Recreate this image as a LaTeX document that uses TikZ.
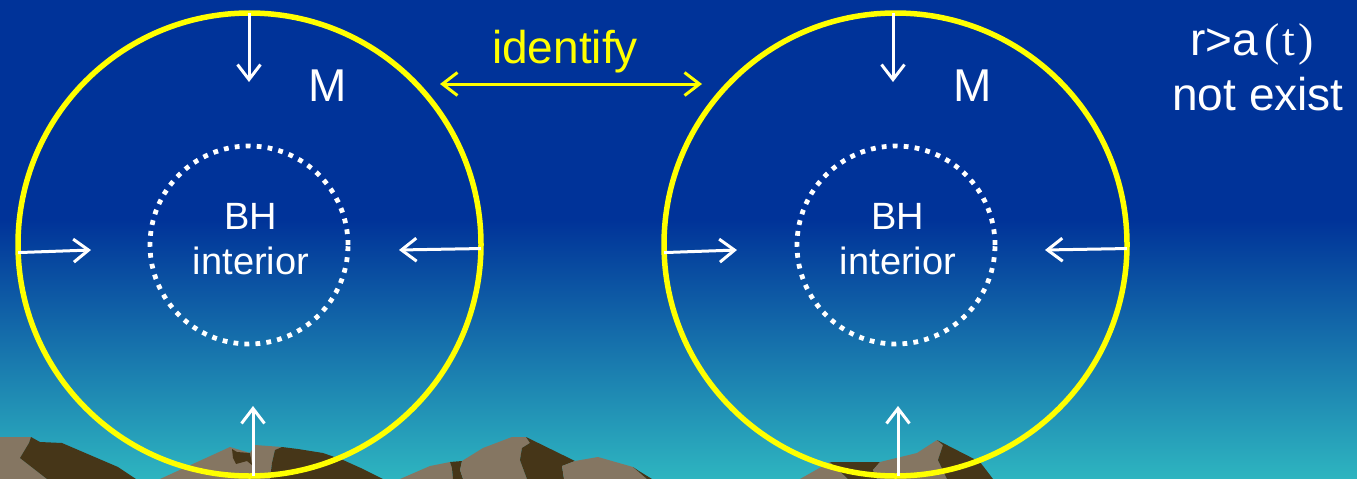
\documentclass[tikz,border=0pt]{standalone}
\usepackage{fontspec}
\setmainfont{Liberation Sans}
\newfontfamily\timesfont{Liberation Serif}
\usepackage{xcolor}
\usepackage{tikz}
\usetikzlibrary{positioning, arrows.meta}

\definecolor{skytop}{RGB}{0,51,153}
\definecolor{skybottom}{RGB}{46,181,192}
\definecolor{rocklight}{RGB}{133,118,98}
\definecolor{rockdark}{RGB}{70,54,24}
\definecolor{hyellow}{RGB}{255,255,0}

\begin{document}
\begin{tikzpicture}[
    x=1pt, y=-1pt,
    horizon/.style={circle, draw=hyellow, line width=5.5pt, inner sep=0pt,
                    outer sep=0pt, minimum size=463pt},
    core/.style={circle, draw=white, line width=4.8pt,
                 dash pattern=on 4.8pt off 6.2pt, inner sep=0pt,
                 outer sep=0pt, minimum size=198pt},
    inarr/.style={-{Straight Barb[length=15pt, width=23pt]}, white, line width=3pt},
    idarr/.style={{Straight Barb[length=15pt, width=23pt]}-{Straight Barb[length=15pt, width=23pt]},
                  hyellow, line width=3pt},
    mtext/.style={text=white, inner sep=0pt, font=\fontsize{46}{55}\selectfont},
    bhtext/.style={text=white, inner sep=0pt, align=center,
                   font=\fontsize{38}{45}\selectfont},
    idtext/.style={text=hyellow, inner sep=0pt, font=\fontsize{46}{55}\selectfont},
    notetext/.style={text=white, inner sep=0pt, font=\fontsize{46}{55}\selectfont}
  ]
  \useasboundingbox (0,0) rectangle (1357,479);

  % sky
  \fill[skytop] (0,0) rectangle (1357,221);
  \shade[top color=skytop, bottom color=skybottom] (0,220) rectangle (1357,479);

  % rocks along the bottom edge
  \fill[rocklight] (0,437) -- (31,437) -- (29,443) -- (20,458) -- (47,479) -- (0,479) -- cycle;
  \fill[rockdark]  (31,437) -- (40,442) -- (62,443) -- (118,467) -- (136,479)
                   -- (47,479) -- (20,458) -- (29,443) -- cycle;

  \fill[rocklight] (160,479) -- (230,447) -- (250,453) -- (255,445) -- (282,447)
                   -- (275,450) -- (272,463) -- (270,479) -- cycle;
  \fill[rockdark]  (282,447) -- (298,449) -- (323,453) -- (343,460) -- (363,469)
                   -- (383,479) -- (270,479) -- (272,463) -- (275,450) -- cycle;
  \fill[rockdark]  (232,449) -- (237,452) -- (250,453) -- (252,465) -- (247,461)
                   -- (236,464) -- (233,458) -- cycle;

  \fill[rocklight] (400,479) -- (430,466) -- (450,462) -- (452,468) -- (453,479) -- cycle;
  \fill[rockdark]  (450,462) -- (462,461) -- (460,470) -- (463,479) -- (453,479)
                   -- (452,468) -- cycle;
  \fill[rocklight] (462,461) -- (483,448) -- (512,437) -- (526,437) -- (530,443)
                   -- (522,448) -- (520,460) -- (527,479) -- (463,479) -- (460,470) -- cycle;
  \fill[rockdark]  (526,437) -- (575,461) -- (562,466) -- (564,479) -- (527,479)
                   -- (520,460) -- (522,448) -- (530,443) -- cycle;
  \fill[rocklight] (562,466) -- (575,461) -- (598,457) -- (633,467) -- (647,479)
                   -- (564,479) -- cycle;
  \fill[rockdark]  (633,467) -- (639,471) -- (652,479) -- (647,479) -- cycle;

  \fill[rocklight] (800,479) -- (830,462) -- (848,479) -- cycle;
  \fill[rockdark]  (830,462) -- (880,462) -- (873,470) -- (877,479) -- (848,479) -- cycle;
  \fill[rocklight] (873,470) -- (880,462) -- (917,453) -- (937,440) -- (943,445)
                   -- (938,460) -- (947,479) -- (877,479) -- cycle;
  \fill[rockdark]  (937,440) -- (980,462) -- (993,479) -- (947,479) -- (938,460)
                   -- (943,445) -- cycle;

  % the two copies of the region
  \node[horizon] (outerL) at (249.5,244.5) {};
  \node[horizon, right=183pt of outerL] (outerR) {};
  \node[core] (coreL) at (249,245) {};
  \node[core] (coreR) at (896,245) {};

  \node[bhtext] (bhL) at (251,239) {BH\\interior};
  \node[bhtext] (bhR) at (898,239) {BH\\interior};
  \node[mtext] (mL) at (328,86) {M};
  \node[mtext] (mR) at (973,86) {M};

  % inward arrows, left copy
  \coordinate (inNL) at (249,82);
  \coordinate (inSL) at (253,406);
  \coordinate (inWL) at (91,250);
  \coordinate (inEL) at (399,250);
  \draw[inarr] ([xshift=-0.5pt]outerL.north) -- (inNL);
  \draw[inarr] ([xshift=3.5pt]outerL.south) -- (inSL);
  \draw[inarr] (outerL.182) -- (inWL);
  \draw[inarr] (outerL.-1.4) -- (inEL);

  % inward arrows, right copy
  \coordinate (inNR) at (893,82);
  \coordinate (inSR) at (898,406);
  \coordinate (inWR) at (737,250);
  \coordinate (inER) at (1045,250);
  \draw[inarr] ([xshift=-2.5pt]outerR.north) -- (inNR);
  \draw[inarr] ([xshift=2.5pt]outerR.south) -- (inSR);
  \draw[inarr] (outerR.182) -- (inWR);
  \draw[inarr] (outerR.-1.4) -- (inER);

  % identification of the two copies
  \coordinate (idL) at (440,84);
  \coordinate (idR) at (702,84);
  \draw[idarr] (idL) -- (idR)
    node[midway, above=9pt, xshift=-6pt, idtext] (idlbl) {identify};

  \node[notetext, anchor=base] (cond) at (1252,55)
    {r>a{\timesfont\kern6pt(\kern3pt t\kern3pt)}};
  \node[notetext, anchor=base] (noex) at ([xshift=6pt, yshift=-55pt]cond.base) {not exist};
\end{tikzpicture}
\end{document}
